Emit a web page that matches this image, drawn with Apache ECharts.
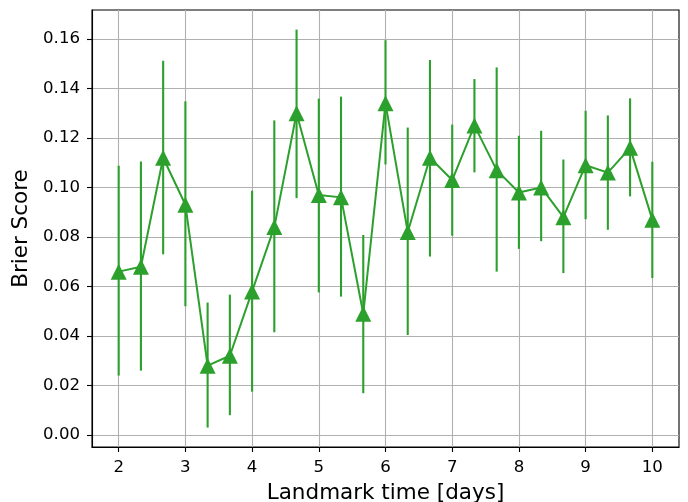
<!DOCTYPE html>
<html><head><meta charset="utf-8">
<script src="https://cdn.jsdelivr.net/npm/echarts@6/dist/echarts.min.js"></script>
<style>html,body{margin:0;padding:0;background:#fff}#c{width:688px;height:502px}</style>
</head><body><div id="c"></div>
<script>
const landmarkTimes = [2, 2.3333, 2.6667, 3, 3.3333, 3.6667, 4, 4.3333, 4.6667, 5, 5.3333, 5.6667, 6, 6.3333, 6.6667, 7, 7.3333, 7.6667, 8, 8.3333, 8.6667, 9, 9.3333, 9.6667, 10];
const brierScore = [0.066, 0.068, 0.112, 0.093, 0.028, 0.032, 0.058, 0.084, 0.130, 0.097, 0.096, 0.049, 0.134, 0.082, 0.112, 0.103, 0.125, 0.107, 0.098, 0.100, 0.088, 0.109, 0.106, 0.116, 0.087];
const errLow  = [0.024, 0.026, 0.073, 0.052, 0.003, 0.008, 0.0175, 0.0415, 0.0957, 0.0576, 0.0559, 0.0169, 0.1093, 0.0404, 0.0721, 0.0805, 0.1061, 0.066, 0.0752, 0.0783, 0.0654, 0.0872, 0.0829, 0.0964, 0.0634];
const errHigh = [0.1088, 0.1105, 0.1512, 0.1348, 0.0535, 0.0567, 0.0987, 0.1271, 0.1638, 0.1359, 0.1367, 0.0808, 0.1595, 0.1242, 0.1515, 0.1254, 0.1438, 0.1485, 0.1209, 0.1229, 0.1113, 0.131, 0.1291, 0.136, 0.1104];
const xTicks = [2, 3, 4, 5, 6, 7, 8, 9, 10];
const yTicks = [0, 0.02, 0.04, 0.06, 0.08, 0.10, 0.12, 0.14, 0.16];

const green = '#2ca02c';
const font = 'DejaVu Sans';
const chart = echarts.init(document.getElementById('c'), null, {renderer: 'canvas'});
chart.setOption({
  animation: false,
  grid: {left: 92, top: 10, right: 9, bottom: 55, show: true, borderColor: '#000', borderWidth: 1.1, backgroundColor: 'transparent', containLabel: false, outerBoundsMode: 'none'},
  xAxis: {
    type: 'value', min: 1.6, max: 10.4,
    name: 'Landmark time [days]', nameLocation: 'middle', nameGap: 35,
    nameTextStyle: {fontFamily: font, fontSize: 21.5, color: '#000'},
    axisLine: {show: true, onZero: false, lineStyle: {color: '#000', width: 1.1}},
    axisTick: {show: true, length: 5, customValues: xTicks, lineStyle: {color: '#000', width: 1.1}},
    axisLabel: {customValues: xTicks, fontFamily: font, fontSize: 16.6, color: '#000', margin: 12, formatter: v => String(v)},
    splitLine: {show: true, lineStyle: {color: '#b0b0b0', width: 1.1}}
  },
  yAxis: {
    type: 'value', min: -0.00485, max: 0.1717,
    name: 'Brier Score', nameLocation: 'middle', nameGap: 51.5,
    nameTextStyle: {fontFamily: font, fontSize: 21.5, color: '#000'},
    axisLine: {show: true, onZero: false, lineStyle: {color: '#000', width: 1.1}},
    axisTick: {show: true, length: 5, customValues: yTicks, lineStyle: {color: '#000', width: 1.1}},
    axisLabel: {customValues: yTicks, fontFamily: font, fontSize: 16.6, color: '#000', margin: 12, formatter: v => v.toFixed(2)},
    splitLine: {show: true, lineStyle: {color: '#b0b0b0', width: 1.1}}
  },
  series: [
    {
      type: 'custom', z: 2,
      data: landmarkTimes.map((x, i) => [x, errLow[i], errHigh[i]]),
      encode: {x: 0, y: [1, 2]},
      renderItem: (params, api) => {
        const p1 = api.coord([api.value(0), api.value(1)]);
        const p2 = api.coord([api.value(0), api.value(2)]);
        return {type: 'line', shape: {x1: p1[0], y1: p1[1], x2: p2[0], y2: p2[1]}, style: {stroke: green, lineWidth: 2.1}};
      }
    },
    {
      type: 'line', z: 3,
      data: landmarkTimes.map((x, i) => [x, brierScore[i]]),
      symbol: 'triangle', symbolSize: 16, showSymbol: true,
      lineStyle: {color: green, width: 2},
      itemStyle: {color: green, borderWidth: 0}
    }
  ]
});
</script></body></html>
